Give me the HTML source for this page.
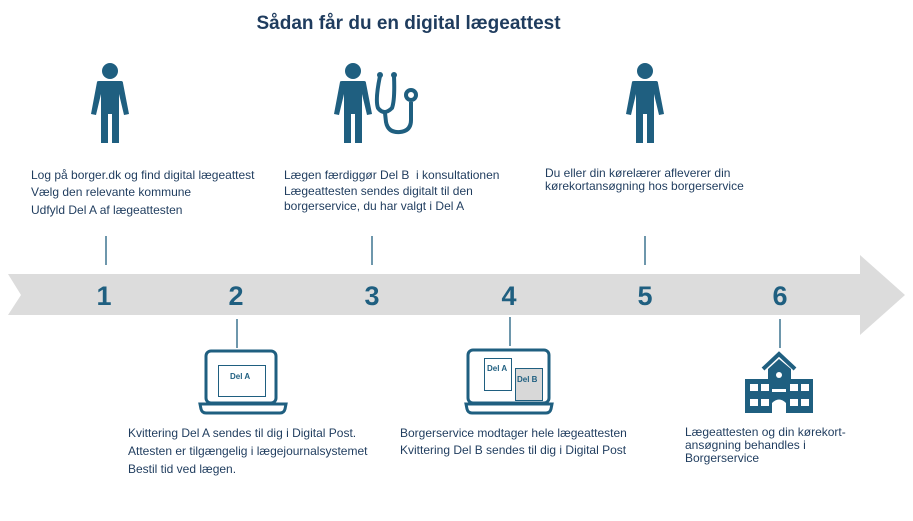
<!DOCTYPE html>
<html><head><meta charset="utf-8"><style>
body{margin:0;width:913px;height:521px;background:#fff;position:relative;overflow:hidden;font-family:"Liberation Sans",Arial,sans-serif}
.t{position:absolute;font-size:12px;color:#1f3c5e;line-height:17px;white-space:nowrap}
h1{position:absolute;margin:0;width:913px;top:13px;text-align:center;font-size:19px;color:#1f3c5e;font-weight:bold}
</style></head><body>
<h1 style="left:-48px">Sådan får du en digital lægeattest</h1>
<svg width="913" height="521" style="position:absolute;left:0;top:0">
<polygon points="8,274 860,274 860,255 905,295 860,335 860,315 8,315 21,295" fill="#dcdcdc"/>
<g fill="#1f5f80" font-family="Liberation Sans,Arial" font-weight="bold" font-size="27" text-anchor="middle">
<text x="104" y="305">1</text><text x="236" y="305">2</text><text x="372" y="305">3</text><text x="509" y="305">4</text><text x="645" y="305">5</text><text x="780" y="305">6</text></g>
<g stroke="#1f5f80" stroke-width="1.3">
<line x1="106" y1="236" x2="106" y2="265"/><line x1="372" y1="236" x2="372" y2="265"/><line x1="645" y1="236" x2="645" y2="265"/>
<line x1="237" y1="319" x2="237" y2="348"/><line x1="510" y1="317" x2="510" y2="346"/><line x1="780" y1="319" x2="780" y2="348"/>
</g>
<defs><g id="p" fill="#1f5f80">
<circle cx="0" cy="9" r="8"/>
<path d="M-13,20 Q-13,19 -11,19 L11,19 Q13,19 13,21 L19,52 L14,53 L9,32 L9,81 L2,81 L2,52 L-2,52 L-2,81 L-9,81 L-9,32 L-14,53 L-19,52 Z"/>
</g></defs>
<use href="#p" x="110" y="62"/>
<use href="#p" x="353" y="62"/>
<use href="#p" x="645" y="62"/>
<g fill="none" stroke="#1f5f80" stroke-width="4">
<path d="M380,76 Q375,100 378,108 Q384,116 392,108 Q395,100 394,76"/>
<path d="M385,113 L386,122 Q388,133 400,132 Q411,131 411,120 L411,102"/>
<circle cx="411" cy="95" r="5"/>
</g>
<circle cx="380" cy="75" r="3" fill="#1f5f80"/><circle cx="394" cy="75" r="3" fill="#1f5f80"/>
<g fill="none" stroke="#1f5f80" stroke-width="3">
<rect x="206" y="351" width="70" height="52" rx="5"/>
<path d="M200,404 L286,404 L285,409 Q284,413 280,413 L206,413 Q202,413 201,409 Z"/>
<rect x="468" y="350" width="81" height="53" rx="5"/>
<path d="M466,404 L552,404 L551,409 Q550,413 546,413 L472,413 Q468,413 467,409 Z"/>
</g>
<rect x="218.5" y="365.5" width="47" height="31" fill="none" stroke="#1f5f80"/>
<rect x="484.5" y="358.5" width="27" height="32" fill="#fff" stroke="#1f5f80"/>
<rect x="515.5" y="368.5" width="27" height="32" fill="#d8d8d8" stroke="#1f5f80"/>
<g font-family="Liberation Sans,Arial" font-weight="bold" font-size="8" fill="#1f5f80">
<text x="230" y="379">Del A</text><text x="487" y="371">Del A</text><text x="517" y="382">Del B</text></g>
<g fill="#1f5f80">
<polyline points="763,369 779,354 795,369" fill="none" stroke="#1f5f80" stroke-width="4"/>
<polygon points="768,379 768,369 779,359 791,369 791,379"/>
<rect x="745" y="379" width="68" height="34"/>
</g>
<g fill="#fff">
<circle cx="779" cy="375" r="3"/>
<rect x="750" y="384" width="8" height="7"/><rect x="761" y="384" width="8" height="7"/><rect x="790" y="384" width="8" height="7"/><rect x="801" y="384" width="8" height="7"/>
<rect x="750" y="399" width="8" height="7"/><rect x="761" y="399" width="8" height="7"/><rect x="790" y="399" width="8" height="7"/><rect x="801" y="399" width="8" height="7"/>
<rect x="772" y="389" width="14" height="3"/>
<path d="M772,413 L772,403 Q779,396 786,403 L786,413 Z"/>
</g>
</svg>
<div class="t" style="left:31px;top:167px">Log på borger.dk og find digital lægeattest</div>
<div class="t" style="left:31px;top:184px">Vælg den relevante kommune</div>
<div class="t" style="left:31px;top:202px">Udfyld Del A af lægeattesten</div>
<div class="t" style="left:284px;top:167px">Lægen færdiggør Del B &nbsp;i konsultationen</div>
<div class="t" style="left:284px;top:184px;line-height:15px">Lægeattesten sendes digitalt til den<br>borgerservice, du har valgt i Del A</div>
<div class="t" style="left:545px;top:167px;line-height:13px">Du eller din kørelærer afleverer din<br>kørekortansøgning hos borgerservice</div>
<div class="t" style="left:128px;top:425px">Kvittering Del A sendes til dig i Digital Post.</div>
<div class="t" style="left:128px;top:443px">Attesten er tilgængelig i lægejournalsystemet</div>
<div class="t" style="left:128px;top:461px">Bestil tid ved lægen.</div>
<div class="t" style="left:400px;top:425px">Borgerservice modtager hele lægeattesten</div>
<div class="t" style="left:400px;top:442px">Kvittering Del B sendes til dig i Digital Post</div>
<div class="t" style="left:685px;top:426px;line-height:13px">Lægeattesten og din kørekort-<br>ansøgning behandles i<br>Borgerservice</div>
</body></html>
